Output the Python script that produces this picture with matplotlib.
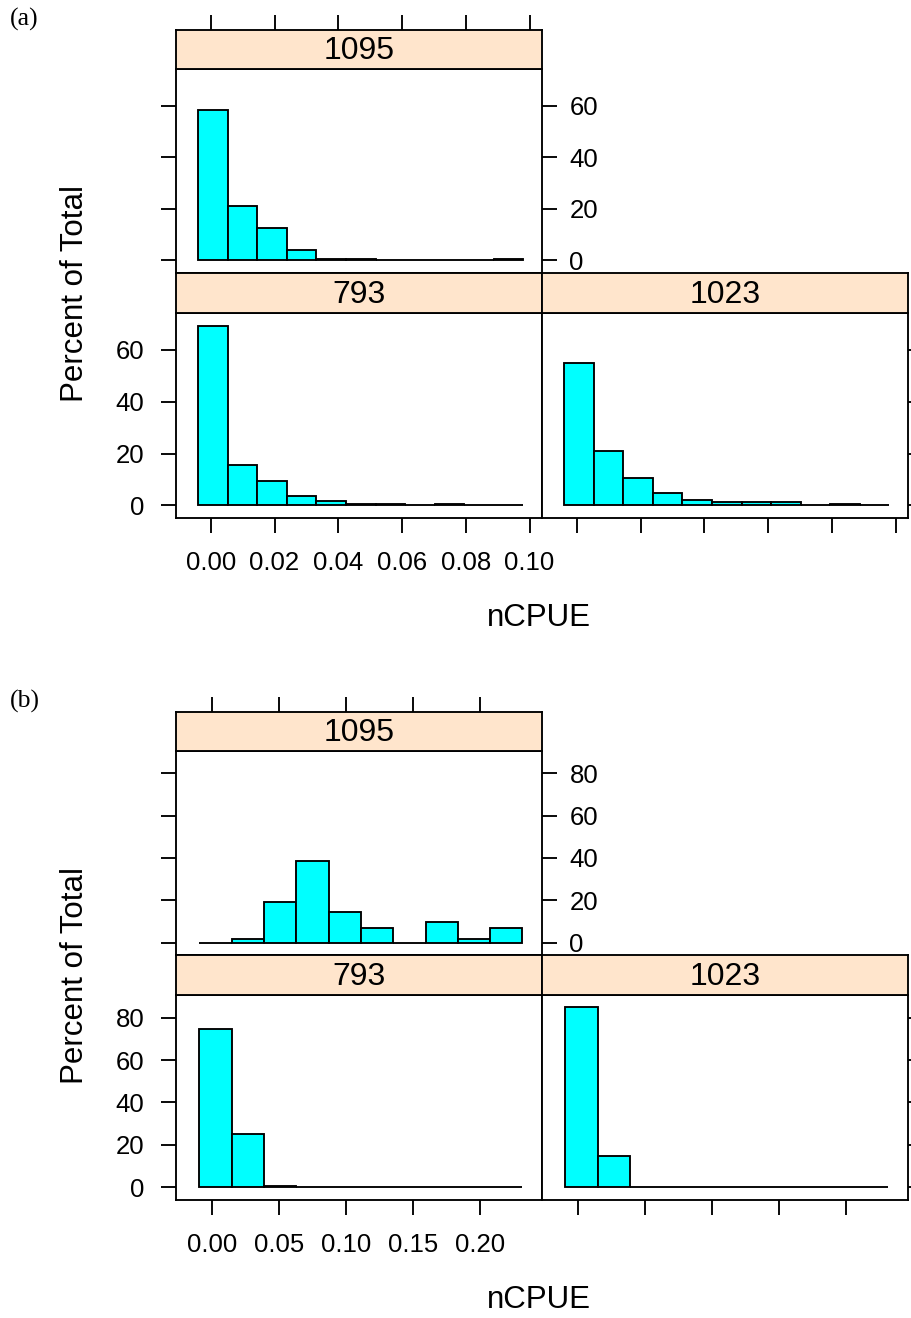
import matplotlib
matplotlib.use("Agg")
import matplotlib.pyplot as plt
import numpy as np

plt.rcParams['font.family'] = ['Liberation Sans', 'DejaVu Sans']

# panel names (lattice strips)
panel_names = ['1095', '793', '1023']

# (a) histogram breaks and percent of total per bin
a_breaks = [-0.0039, 0.0054, 0.0146, 0.0239, 0.0331, 0.0424, 0.0517,
            0.0609, 0.0702, 0.0794, 0.0887, 0.0980]
a_1095 = [58.4, 21.2, 12.6, 4.0, 0.5, 0.5, 0, 0, 0, 0, 0.6]
a_793 = [69.3, 15.6, 9.4, 3.6, 1.7, 0.5, 0.5, 0, 0.5, 0, 0]
a_1023 = [55.1, 21.0, 10.7, 4.7, 2.2, 1.4, 1.4, 1.4, 0, 0.5, 0]
a_xticks = [0.00, 0.02, 0.04, 0.06, 0.08, 0.10]
a_xticklabels = ['0.00', '0.02', '0.04', '0.06', '0.08', '0.10']
a_yticks = [0, 20, 40, 60]

# (b)
b_breaks = [-0.0092, 0.0149, 0.0390, 0.0630, 0.0871, 0.1112, 0.1353,
            0.1594, 0.1834, 0.2075, 0.2316]
b_1095 = [0, 1.9, 19.4, 38.4, 14.6, 6.7, 0, 9.5, 1.9, 6.7]
b_793 = [74.4, 25.0, 0.7, 0, 0, 0, 0, 0, 0, 0]
b_1023 = [84.8, 15.0, 0, 0, 0, 0, 0, 0, 0, 0]
b_xticks = [0.00, 0.05, 0.10, 0.15, 0.20]
b_xticklabels = ['0.00', '0.05', '0.10', '0.15', '0.20']
b_yticks = [0, 20, 40, 60, 80]

W, H = 912, 1318
fig = plt.figure(figsize=(W / 100, H / 100), dpi=100)


def box(x0, y0, x1, y1):
    # pixel box (y from top) -> figure fraction
    return [x0 / W, 1 - y1 / H, (x1 - x0) / W, (y1 - y0) / H]


LW = 1.35
TL = 10.8
strip_col = '#FFE5CC'
bar_col = '#00FFFF'


def strip(x0, y0, x1, y1, name, share):
    s = fig.add_axes(box(x0, y0, x1, y1), sharex=share, zorder=3)
    s.set_facecolor(strip_col)
    s.set_yticks([])
    s.tick_params(axis='x', bottom=False, top=False, labelbottom=False, labeltop=False)
    for sp in s.spines.values():
        sp.set_linewidth(LW)
    s.text(0.5, 0.46, name, transform=s.transAxes, ha='center', va='center', fontsize=23)
    return s


def panel(x0, y0, x1, y1, breaks, vals, xlim, ylim):
    ax = fig.add_axes(box(x0, y0, x1, y1), zorder=1)
    ax.bar(breaks[:-1], vals, width=np.diff(breaks), align='edge',
           color=bar_col, edgecolor='black', linewidth=LW)
    ax.set_xlim(xlim)
    ax.set_ylim(ylim)
    for sp in ax.spines.values():
        sp.set_linewidth(LW)
    ax.tick_params(direction='out', length=TL, width=LW, labelsize=18.5)
    return ax


def block(T, breaks, v1095, v793, v1023, xlim, ylim, xticks, xticklabels, yticks, tag):
    L, M, R = 176, 542, 908
    # top-left panel (1095)
    ax1 = panel(L, T + 39, M, T + 243, breaks, v1095, xlim, ylim)
    ax1.set_xticks(xticks)
    ax1.set_yticks(yticks)
    ax1.tick_params(axis='x', bottom=False, labelbottom=False)
    ax1.tick_params(axis='y', left=True, right=True, labelleft=False, labelright=True, pad=9)
    s1 = strip(L, T, M, T + 39, panel_names[0], ax1)
    s1.tick_params(axis='x', top=True, direction='out', length=TL, width=LW)

    # bottom-left panel (793)
    ax2 = panel(L, T + 283, M, T + 488, breaks, v793, xlim, ylim)
    ax2.set_xticks(xticks)
    ax2.set_xticklabels(xticklabels)
    ax2.set_yticks(yticks)
    ax2.tick_params(axis='x', pad=13)
    ax2.tick_params(axis='y', pad=12)
    strip(L, T + 243, M, T + 283, panel_names[1], ax2)

    # bottom-right panel (1023)
    ax3 = panel(M, T + 283, R, T + 488, breaks, v1023, xlim, ylim)
    ax3.set_xticks(xticks)
    ax3.set_yticks(yticks)
    ax3.tick_params(axis='x', labelbottom=False)
    ax3.tick_params(axis='y', left=False, labelleft=False, right=True)
    strip(M, T + 243, R, T + 283, panel_names[2], ax3)

    fig.text(75 / W, 1 - (T + 264) / H, 'Percent of Total', rotation=90,
             ha='center', va='center', fontsize=22.5)
    fig.text(539 / W, 1 - (T + 588) / H, 'nCPUE', ha='center', va='center', fontsize=22.5)
    fig.text(10 / W, 1 - (T - 11) / H, tag, ha='left', va='center', fontsize=18.5,
             family=['Liberation Serif', 'DejaVu Serif'])


block(30, a_breaks, a_1095, a_793, a_1023, (-0.0109, 0.1039), (-4.85, 74.2),
      a_xticks, a_xticklabels, a_yticks, '(a)')
block(712, b_breaks, b_1095, b_793, b_1023, (-0.0266, 0.2462), (-5.9, 90.6),
      b_xticks, b_xticklabels, b_yticks, '(b)')

fig.savefig('out.png', dpi=100)
